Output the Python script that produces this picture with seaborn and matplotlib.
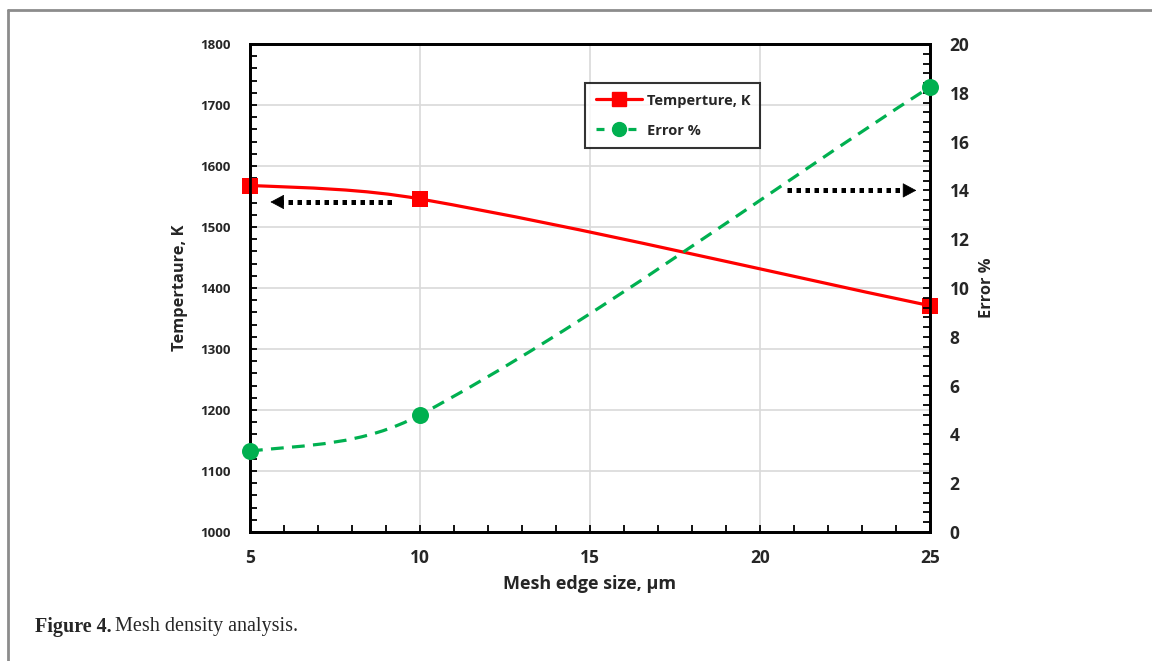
import numpy as np
import matplotlib
matplotlib.use("Agg")
import matplotlib.pyplot as plt
from matplotlib.path import Path
from matplotlib.patches import PathPatch
from matplotlib.lines import Line2D
from matplotlib.ticker import MultipleLocator
import seaborn as sns
import pandas as pd

mesh_size = [5, 10, 25]
temperature = [1568, 1546, 1371]
error_pct = [3.32, 4.8, 18.24]
x_ticks = [5, 10, 15, 20, 25]

sns.set_theme(style="white")
plt.rcParams['font.family'] = ['Open Sans', 'DejaVu Sans']
plt.rcParams['font.weight'] = 'bold'

RED = '#FF0000'
GREEN = '#00B050'


def smooth_path(x, y):
    """Smoothed (Excel-like) connecting path through the data points."""
    x = np.asarray(x, float)
    y = np.asarray(y, float)
    n = len(x)
    sec = np.diff(y) / np.diff(x)
    m = np.zeros(n)
    for i in range(1, n - 1):
        m[i] = (y[i + 1] - y[i - 1]) / (x[i + 1] - x[i - 1])
    q = 2 * sec[0] - m[1]
    if np.sign(q) != np.sign(sec[0]):
        q = 0.0
    m[0] = 0.5 * (sec[0] + q)
    m[-1] = sec[-1]
    verts = [(x[0], y[0])]
    codes = [Path.MOVETO]
    for i in range(n - 1):
        h = x[i + 1] - x[i]
        verts += [(x[i] + h / 3, y[i] + m[i] * h / 3),
                  (x[i + 1] - h / 3, y[i + 1] - m[i + 1] * h / 3),
                  (x[i + 1], y[i + 1])]
        codes += [Path.CURVE4] * 3
    return Path(verts, codes)


fig = plt.figure(figsize=(11.52, 6.61), dpi=100)
ax = fig.add_axes([250 / 1152, 1 - 532 / 661, 680 / 1152, 488 / 661])
ax2 = ax.twinx()

df = pd.DataFrame({'mesh': mesh_size, 'temp': temperature, 'err': error_pct})

# grid
ax.set_axisbelow(True)
for yv in range(1100, 1800, 100):
    ax.axhline(yv, color='#d9d9d9', lw=1.2, zorder=0)
for xv in x_ticks[1:-1]:
    ax.axvline(xv, color='#d9d9d9', lw=1.2, zorder=0)

# temperature curve
ax.add_patch(PathPatch(smooth_path(mesh_size, temperature), fill=False,
                       edgecolor=RED, lw=2.3, zorder=3))
sns.scatterplot(data=df, x='mesh', y='temp', ax=ax, marker='s', s=120,
                color=RED, edgecolor=RED, linewidth=0, zorder=4, clip_on=False)

# error curve
ax2.add_patch(PathPatch(smooth_path(mesh_size, error_pct), fill=False,
                        edgecolor=GREEN, lw=2.3, linestyle=(0, (4, 2.6)), zorder=3))
sns.scatterplot(data=df, x='mesh', y='err', ax=ax2, marker='o', s=150,
                color=GREEN, edgecolor=GREEN, linewidth=0, zorder=4, clip_on=False)

ax.set_xlim(5, 25)
ax.set_ylim(1000, 1800)
ax2.set_ylim(0, 20)
ax.set_xticks(x_ticks)
ax.set_yticks(range(1000, 1801, 100))
ax2.set_yticks(range(0, 21, 2))
ax.xaxis.set_minor_locator(MultipleLocator(1))
ax.yaxis.set_minor_locator(MultipleLocator(20))
ax2.yaxis.set_minor_locator(MultipleLocator(0.4))

for a in (ax, ax2):
    for s in a.spines.values():
        s.set_color('black')
        s.set_linewidth(2)
ax.tick_params(axis='both', which='both', direction='in', length=5, width=1.3,
               color='black', bottom=True, left=True, top=False, right=False)
ax2.tick_params(axis='y', which='both', direction='in', length=5, width=1.3,
                color='black', right=True, left=False)
ax.tick_params(axis='y', labelsize=9.5, pad=14)
ax.tick_params(axis='x', labelsize=12.5, pad=12)
ax2.tick_params(axis='y', labelsize=12.5, pad=14)
for lab in ax.get_xticklabels() + ax.get_yticklabels() + ax2.get_yticklabels():
    lab.set_fontweight('bold')

ax.set_xlabel('Mesh edge size, µm', fontsize=13, fontweight='bold', labelpad=6)
ax.set_ylabel('Tempertaure, K', fontsize=11.8, fontweight='bold', labelpad=9)
ax2.set_ylabel('Error %', fontsize=11.8, fontweight='bold', labelpad=7)

# arrows: dotted shaft + filled head
DOT = dict(color='black', lw=3.6, linestyle=(0, (0.9, 0.9)),
           dash_capstyle='butt', zorder=5)
ax.plot([5.85, 9.2], [1541, 1541], **DOT)
ax.annotate('', xy=(5.6, 1541), xytext=(5.95, 1541),
            arrowprops=dict(arrowstyle='-|>,head_length=0.75,head_width=0.4',
                            lw=0.5, color='black', shrinkA=0, shrinkB=0), zorder=5)
ax2.plot([20.8, 24.3], [14.0, 14.0], **DOT)
ax2.annotate('', xy=(24.6, 14.0), xytext=(24.25, 14.0),
             arrowprops=dict(arrowstyle='-|>,head_length=0.75,head_width=0.4',
                             lw=0.5, color='black', shrinkA=0, shrinkB=0), zorder=5)

# legend
handles = [
    Line2D([], [], color=RED, lw=2.3, marker='s', markersize=10),
    Line2D([], [], color=GREEN, lw=2.3, linestyle=(0, (2.5, 2.5)), marker='o',
           markersize=10),
]
leg = fig.legend(handles, ['Temperture, K', 'Error %'], loc='upper left',
                 bbox_to_anchor=(578 / 1152, 1 - 76 / 661), frameon=True,
                 fancybox=False, edgecolor='black', handlelength=3.2,
                 borderpad=0.7, labelspacing=1.1, handletextpad=0.3,
                 prop={'weight': 'bold', 'size': 10.5})
leg.get_frame().set_linewidth(1.5)

# outer frame
fig.add_artist(Line2D([8 / 1152, 8 / 1152], [0, 1 - 10 / 661], color='#8c8c8c', lw=2,
                      transform=fig.transFigure))
fig.add_artist(Line2D([8 / 1152, 1], [1 - 10 / 661, 1 - 10 / 661], color='#8c8c8c', lw=2,
                      transform=fig.transFigure))

# caption
SERIF = ['Liberation Serif', 'DejaVu Serif']
t1 = fig.text(35 / 1152, 1 - 627 / 661, 'Figure 4.', fontsize=14.5, fontweight='bold',
              family=SERIF, va='center', ha='left')
fig.canvas.draw()
bb = t1.get_window_extent()
fig.text((bb.x1 + 3) / 1152, 1 - 627 / 661, 'Mesh density analysis.', fontsize=14.5,
         fontweight='normal', family=SERIF, va='center', ha='left')

fig.savefig('out.png', dpi=100, facecolor='white')
